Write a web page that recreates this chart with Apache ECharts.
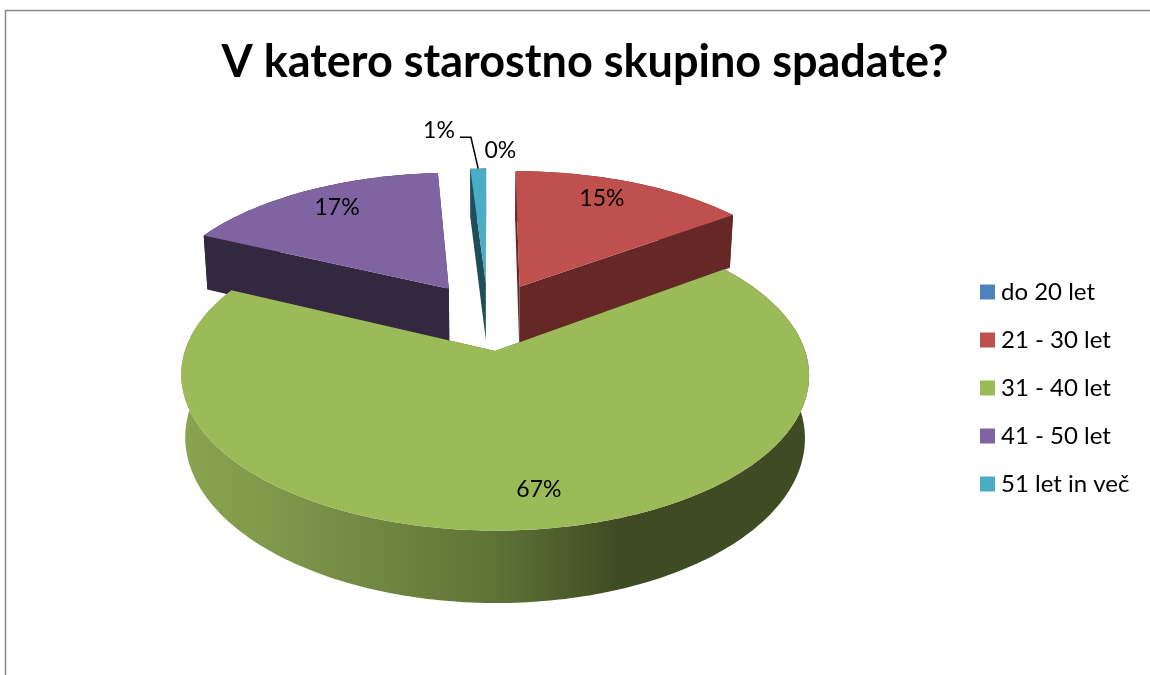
<!DOCTYPE html>
<html>
<head>
<meta charset="utf-8">
<title>V katero starostno skupino spadate?</title>
<script src="https://cdn.jsdelivr.net/npm/echarts@6/dist/echarts.min.js"></script>
<style>
  html, body { margin: 0; padding: 0; background: #fff; }
  #chart { width: 1150px; height: 675px; }
</style>
</head>
<body>
<div id="chart"></div>
<script>
const titleText = 'V katero starostno skupino spadate?'
const categories = ['do 20 let', '21 - 30 let', '31 - 40 let', '41 - 50 let', '51 let in več']
const shares = [0, 15, 67, 17, 1]

const fontName = 'Lato'
const topColors = ['#4F81BD', '#C0504D', '#9BBB59', '#8064A2', '#4BACC6']
const wallColors = ['#263E5C', '#652827', '#3F4B22', '#332840', '#1F4D59']

// flat pie -> screen, with a bit of perspective so the back looks smaller
const view = { cx: 488, cy: 316, a: 299, b: 141, p: 0.15, explode: 0.24, depth: 59, shrink: 0.987 }
// where the % labels sit: angle on the slice (deg) and radius
const labelAngle = [2.4, 23.9, 171.4, 327, 352]
const labelRadius = [1.19, 0.805, 0.81, 0.8, 1.415]

const total = shares.reduce((s, v) => s + v, 0)
const toDeg = v => v / total * 360

function startAngle(idx) {
    let sum = 0
    for (let i = 0; i < idx; i++) sum += shares[i]
    return toDeg(sum)
}

function project(x, y) {
    let w = 1 - view.p * y
    return [view.cx + view.a * x / w, view.cy + view.b * y / w, w]
}

// point on a slice at angle deg and radius r, moved out along the slice's middle
function slicePoint(idx, deg, r) {
    let mid = (startAngle(idx) + toDeg(shares[idx]) / 2) * Math.PI / 180
    let t = deg * Math.PI / 180
    let x = view.explode * Math.sin(mid) + r * Math.sin(t)
    let y = -view.explode * Math.cos(mid) - r * Math.cos(t)
    return project(x, y)
}

function lower(pt) {
    return [view.cx + (pt[0] - view.cx) * view.shrink, pt[1] + view.depth / pt[2]]
}

function renderSlice(params, api) {
    let idx = params.seriesIndex
    let from = startAngle(idx)
    let to = from + toDeg(api.value(0))
    let children = []
    let z = idx == 2 ? 10 : 2

    if (to > from) {
        let arc = []
        for (let d = from; d < to; d += 1) arc.push(slicePoint(idx, d, 1))
        arc.push(slicePoint(idx, to, 1))
        let apex = slicePoint(idx, from, 0)
        let wallFill = wallColors[idx]
        if (idx == 2) {
            // the long front wall of the big slice goes dark from left to right
            wallFill = new echarts.graphic.LinearGradient(180, 0, 808, 0, [
                { offset: 0, color: '#8AA550' },
                { offset: 0.2, color: '#7B9348' },
                { offset: 0.5, color: '#5F7336' },
                { offset: 0.7, color: '#3F4B22' },
                { offset: 1, color: '#3F4B22' }
            ], true)
        }
        let wallOf = pts => pts.map(p => [p[0], p[1]]).concat(pts.slice().reverse().map(lower))
        children.push({ type: 'polygon', z2: z, shape: { points: wallOf(arc) }, style: { fill: wallFill } })
        children.push({ type: 'polygon', z2: z + 1, shape: { points: wallOf([apex, arc[0]]) }, style: { fill: wallColors[idx] } })
        children.push({ type: 'polygon', z2: z + 1, shape: { points: wallOf([apex, arc[arc.length - 1]]) }, style: { fill: wallColors[idx] } })
        let top = [apex.slice(0, 2)].concat(arc.map(p => [p[0], p[1]]))
        children.push({ type: 'polygon', z2: z + 2, shape: { points: top }, style: { fill: topColors[idx] } })
    }

    let lp = slicePoint(idx, labelAngle[idx], labelRadius[idx])
    children.push({
        type: 'text', z2: 20,
        style: {
            x: lp[0], y: lp[1], text: Math.round(api.value(0)) + '%',
            fill: '#000', font: '23px ' + fontName, align: 'center', verticalAlign: 'middle'
        }
    })

    // leader line from the 1% label down to its slice
    if (idx == 4) {
        let end = slicePoint(idx, (from + to) / 2, 1)
        children.push({
            type: 'polyline', z2: 20,
            shape: { points: [[lp[0] + 21, lp[1] + 7], [lp[0] + 32, lp[1] + 7], [end[0], end[1]]] },
            style: { stroke: '#000', lineWidth: 1.5, fill: null }
        })
    }
    return { type: 'group', children: children }
}

const seriesList = categories.map((name, i) => ({
    type: 'custom',
    name: name,
    coordinateSystem: 'none',
    itemStyle: { color: topColors[i] },
    renderItem: renderSlice,
    data: [[shares[i]]]
}))

const chart = echarts.init(document.getElementById('chart'))
chart.setOption({
    animation: false,
    backgroundColor: '#fff',
    title: {
        text: titleText,
        left: 580,
        top: 35,
        textAlign: 'center',
        textStyle: { fontFamily: fontName, fontSize: 45, fontWeight: 'bold', color: '#000' }
    },
    legend: {
        orient: 'vertical',
        left: 975,
        top: 275,
        itemWidth: 15,
        itemHeight: 15,
        itemGap: 24,
        icon: 'rect',
        textStyle: { fontFamily: fontName, fontSize: 24, color: '#000', padding: [0, 0, 0, 1] },
        data: categories
    },
    graphic: [{
        type: 'rect',
        silent: true,
        shape: { x: 5.5, y: 10.5, width: 1300, height: 900 },
        style: { fill: null, stroke: '#868686', lineWidth: 1.5 }
    }],
    series: seriesList
})
</script>
</body>
</html>
